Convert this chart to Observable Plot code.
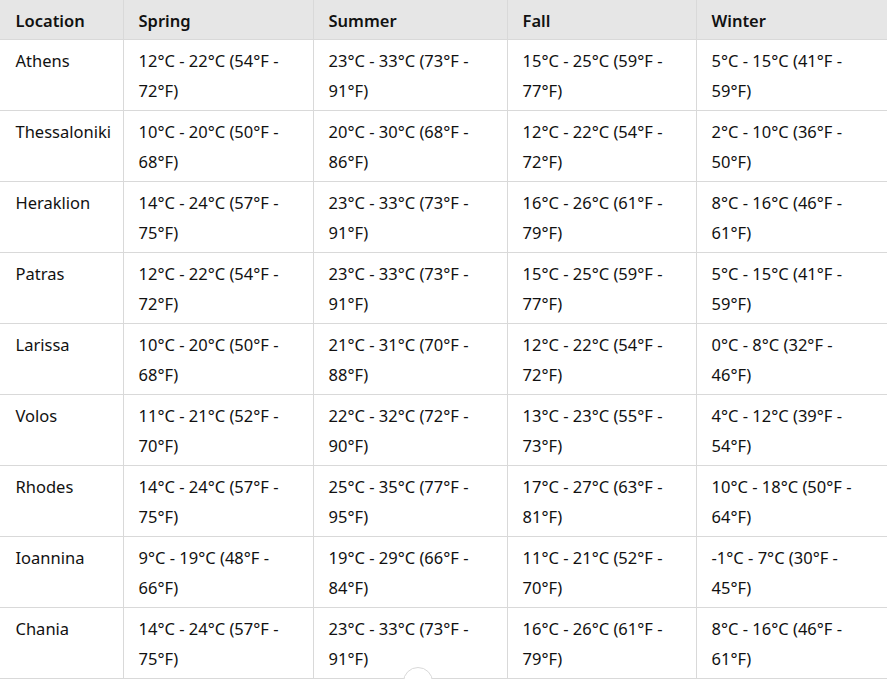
<!DOCTYPE html>
<html><head><meta charset="utf-8">
<script src="https://cdn.jsdelivr.net/npm/d3@7"></script>
<script src="https://cdn.jsdelivr.net/npm/@observablehq/plot@0.6"></script>
<style>
body{margin:0;background:#fff;}
#wrap{position:relative;width:887px;height:679px;overflow:hidden;}
#btn{position:absolute;left:403px;top:667px;width:30px;height:30px;border-radius:50%;background:#fff;border:1px solid #d9d9d9;box-sizing:border-box;}
</style>
</head><body><div id="wrap"><div id="chart"></div><div id="btn"></div></div>
<script>
const headers = ["Location", "Spring", "Summer", "Fall", "Winter"];
const locations = ["Athens", "Thessaloniki", "Heraklion", "Patras", "Larissa", "Volos", "Rhodes", "Ioannina", "Chania"];
const spring = [
  "12°C - 22°C (54°F - 72°F)", "10°C - 20°C (50°F - 68°F)", "14°C - 24°C (57°F - 75°F)",
  "12°C - 22°C (54°F - 72°F)", "10°C - 20°C (50°F - 68°F)", "11°C - 21°C (52°F - 70°F)",
  "14°C - 24°C (57°F - 75°F)", "9°C - 19°C (48°F - 66°F)", "14°C - 24°C (57°F - 75°F)"
];
const summer = [
  "23°C - 33°C (73°F - 91°F)", "20°C - 30°C (68°F - 86°F)", "23°C - 33°C (73°F - 91°F)",
  "23°C - 33°C (73°F - 91°F)", "21°C - 31°C (70°F - 88°F)", "22°C - 32°C (72°F - 90°F)",
  "25°C - 35°C (77°F - 95°F)", "19°C - 29°C (66°F - 84°F)", "23°C - 33°C (73°F - 91°F)"
];
const fall = [
  "15°C - 25°C (59°F - 77°F)", "12°C - 22°C (54°F - 72°F)", "16°C - 26°C (61°F - 79°F)",
  "15°C - 25°C (59°F - 77°F)", "12°C - 22°C (54°F - 72°F)", "13°C - 23°C (55°F - 73°F)",
  "17°C - 27°C (63°F - 81°F)", "11°C - 21°C (52°F - 70°F)", "16°C - 26°C (61°F - 79°F)"
];
const winter = [
  "5°C - 15°C (41°F - 59°F)", "2°C - 10°C (36°F - 50°F)", "8°C - 16°C (46°F - 61°F)",
  "5°C - 15°C (41°F - 59°F)", "0°C - 8°C (32°F - 46°F)", "4°C - 12°C (39°F - 54°F)",
  "10°C - 18°C (50°F - 64°F)", "-1°C - 7°C (30°F - 45°F)", "8°C - 16°C (46°F - 61°F)"
];

// layout
const W = 887, H = 679;
const colEdges = [0, 123, 313, 507, 696, 887];
const headerH = 39, rowH = 71, pad = 15;
const font = "Noto Sans, sans-serif";
const fs = 16.5;

const columns = [locations, spring, summer, fall, winter];
const cells = [];
locations.forEach((loc, r) => {
  const top = headerH + r * rowH;
  columns.forEach((col, c) => {
    const s = col[r];
    let l1 = s, l2 = "";
    if (c > 0) {
      const k = s.lastIndexOf(" ");
      l1 = s.slice(0, k); l2 = s.slice(k + 1);
    }
    cells.push({x: colEdges[c] + pad, y1: top + 27.5, y2: top + 57.5, l1, l2});
  });
});
const head = headers.map((h, c) => ({x: colEdges[c] + pad, y: 26, h}));
const hLines = d3.range(locations.length + 1).map(i => headerH + i * rowH);

const chart = Plot.plot({
  width: W, height: H, margin: 0,
  x: {type: "identity", axis: null}, y: {type: "identity", axis: null},
  style: {background: "#fff"},
  marks: [
    Plot.rect([0], {x1: 0, x2: W, y1: 0, y2: headerH, fill: "#e6e6e6"}),
    Plot.ruleY(hLines, {x1: 0, x2: W, stroke: "#d9d9d9", strokeWidth: 1, strokeOpacity: 1}),
    Plot.ruleX(colEdges.slice(1, -1), {y1: 0, y2: headerH + locations.length * rowH, stroke: "#d9d9d9", strokeOpacity: 1}),
    Plot.text(head, {x: "x", y: "y", text: "h", textAnchor: "start", lineAnchor: "bottom", fontFamily: font, fontSize: fs, fontWeight: 600, fill: "#111"}),
    Plot.text(cells, {x: "x", y: "y1", text: "l1", textAnchor: "start", lineAnchor: "bottom", fontFamily: font, fontSize: fs, fill: "#111"}),
    Plot.text(cells, {x: "x", y: "y2", text: "l2", textAnchor: "start", lineAnchor: "bottom", fontFamily: font, fontSize: fs, fill: "#111"})
  ]
});
document.getElementById("chart").appendChild(chart);
</script>
</body></html>
